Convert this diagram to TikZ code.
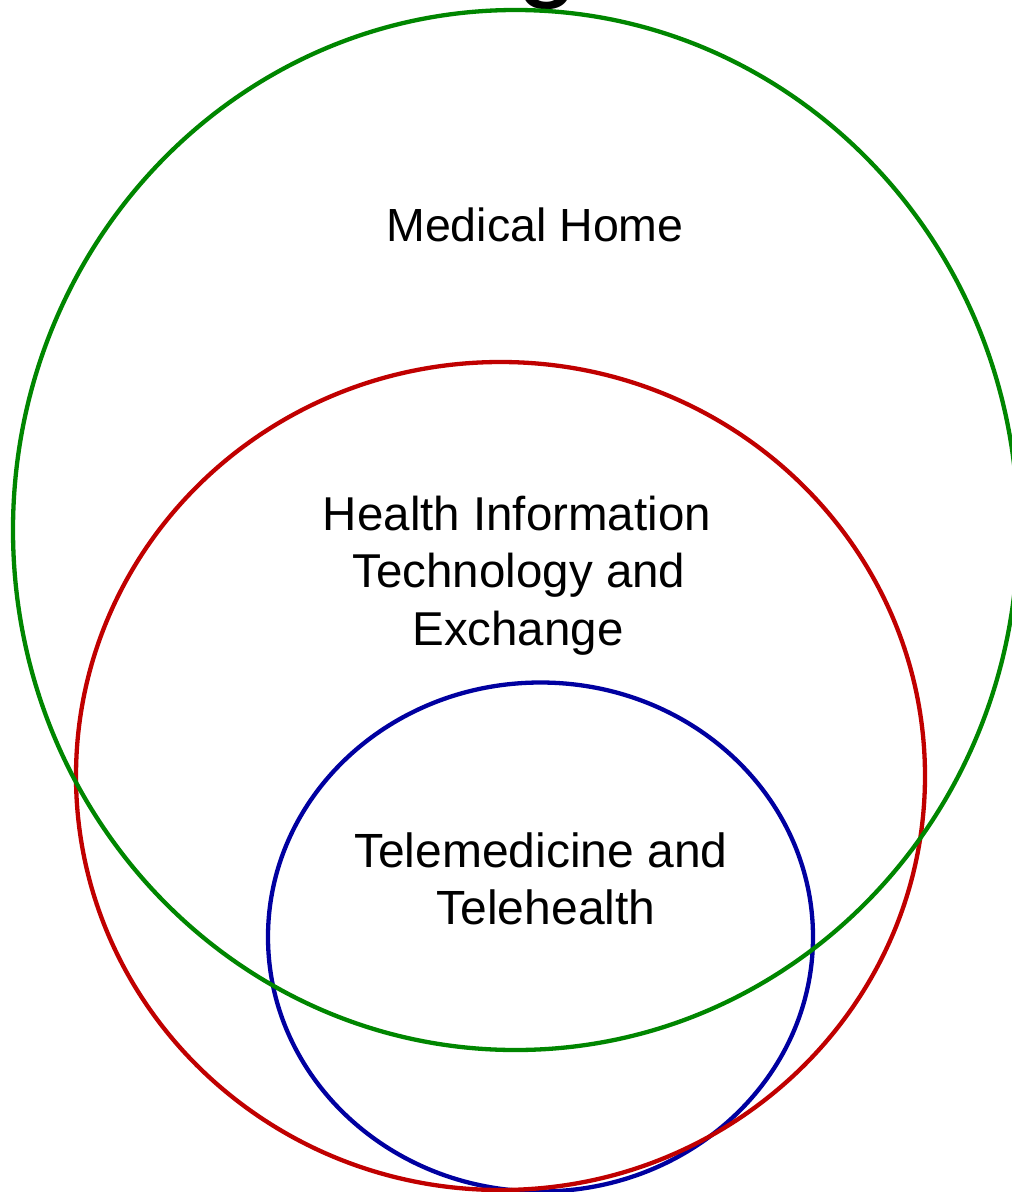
\documentclass[tikz,border=0pt]{standalone}
\usepackage{fontspec}
\setmainfont{Liberation Sans}
\definecolor{mhgreen}{RGB}{0,134,0}
\definecolor{hitred}{RGB}{192,0,0}
\definecolor{tmblue}{RGB}{0,0,160}
\tikzset{
  ring/.style={line width=4.3pt},
  lbl/.style={align=center, inner sep=0pt, text=black},
}
\begin{document}
\begin{tikzpicture}[x=1pt,y=-1pt]
  \useasboundingbox (0,0) rectangle (1012,1192);
  \clip (0,0) rectangle (1012,1192);
  \fill[white] (0,0) rectangle (1012,1192);
  % cut-off title fragment
  \node[lbl, anchor=base, font=\fontsize{112}{120}\selectfont] (title) at (548,-14) {g};
  % circles
  \draw[ring, tmblue] (540.5,937) ellipse [x radius=272.5, y radius=254.5];
  \draw[ring, hitred] (500.5,776) ellipse [x radius=424.5, y radius=414];
  \draw[ring, mhgreen] (515.5,530) ellipse [x radius=502.5, y radius=520];
  % labels
  \node[lbl, anchor=base, font=\fontsize{46.5}{57.5}\selectfont] (mh) at (535,241) {Medical Home};
  \node[lbl, anchor=base, font=\fontsize{47.5}{57.5}\selectfont] (hit1) at (517,530) {Health Information};
  \node[lbl, anchor=base, font=\fontsize{47.5}{57.5}\selectfont] (hit2) at (519,587) {Technology and};
  \node[lbl, anchor=base, font=\fontsize{47.5}{57.5}\selectfont] (hit3) at (518,645) {Exchange};
  \node[lbl, anchor=base, font=\fontsize{48}{57}\selectfont] (tm1) at (541,867) {Telemedicine and};
  \node[lbl, anchor=base, font=\fontsize{48}{57}\selectfont] (tm2) at (546,924) {Telehealth};
\end{tikzpicture}
\end{document}
